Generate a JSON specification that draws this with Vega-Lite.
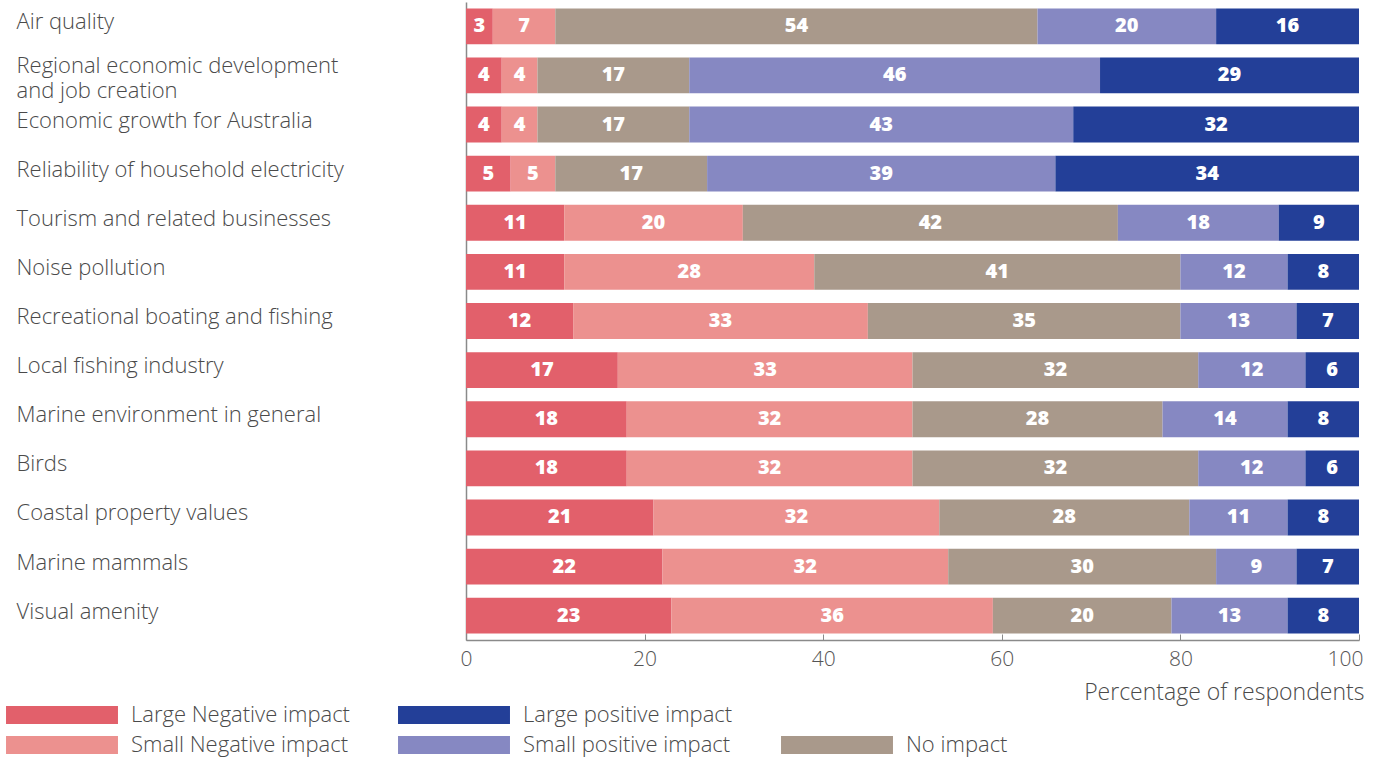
{
  "$schema": "https://vega.github.io/schema/vega-lite/v6.json",
  "width": 893,
  "height": 638,
  "autosize": {"type": "none"},
  "padding": {"left": 466, "top": 2, "right": 22, "bottom": 118},
  "background": "white",
  "config": {"view": {"stroke": null}, "font": "Open Sans"},
  "datasets": {
    "impacts": [
      {"impact": "Large Negative impact", "seg": 1},
      {"impact": "Small Negative impact", "seg": 2},
      {"impact": "No impact", "seg": 3},
      {"impact": "Small positive impact", "seg": 4},
      {"impact": "Large positive impact", "seg": 5}
    ],
    "survey": [
      {"item": "Air quality", "impact": "Large Negative impact", "pct": 3},
      {"item": "Air quality", "impact": "Small Negative impact", "pct": 7},
      {"item": "Air quality", "impact": "No impact", "pct": 54},
      {"item": "Air quality", "impact": "Small positive impact", "pct": 20},
      {"item": "Air quality", "impact": "Large positive impact", "pct": 16},
      {"item": "Regional economic development and job creation", "impact": "Large Negative impact", "pct": 4},
      {"item": "Regional economic development and job creation", "impact": "Small Negative impact", "pct": 4},
      {"item": "Regional economic development and job creation", "impact": "No impact", "pct": 17},
      {"item": "Regional economic development and job creation", "impact": "Small positive impact", "pct": 46},
      {"item": "Regional economic development and job creation", "impact": "Large positive impact", "pct": 29},
      {"item": "Economic growth for Australia", "impact": "Large Negative impact", "pct": 4},
      {"item": "Economic growth for Australia", "impact": "Small Negative impact", "pct": 4},
      {"item": "Economic growth for Australia", "impact": "No impact", "pct": 17},
      {"item": "Economic growth for Australia", "impact": "Small positive impact", "pct": 43},
      {"item": "Economic growth for Australia", "impact": "Large positive impact", "pct": 32},
      {"item": "Reliability of household electricity", "impact": "Large Negative impact", "pct": 5},
      {"item": "Reliability of household electricity", "impact": "Small Negative impact", "pct": 5},
      {"item": "Reliability of household electricity", "impact": "No impact", "pct": 17},
      {"item": "Reliability of household electricity", "impact": "Small positive impact", "pct": 39},
      {"item": "Reliability of household electricity", "impact": "Large positive impact", "pct": 34},
      {"item": "Tourism and related businesses", "impact": "Large Negative impact", "pct": 11},
      {"item": "Tourism and related businesses", "impact": "Small Negative impact", "pct": 20},
      {"item": "Tourism and related businesses", "impact": "No impact", "pct": 42},
      {"item": "Tourism and related businesses", "impact": "Small positive impact", "pct": 18},
      {"item": "Tourism and related businesses", "impact": "Large positive impact", "pct": 9},
      {"item": "Noise pollution", "impact": "Large Negative impact", "pct": 11},
      {"item": "Noise pollution", "impact": "Small Negative impact", "pct": 28},
      {"item": "Noise pollution", "impact": "No impact", "pct": 41},
      {"item": "Noise pollution", "impact": "Small positive impact", "pct": 12},
      {"item": "Noise pollution", "impact": "Large positive impact", "pct": 8},
      {"item": "Recreational boating and fishing", "impact": "Large Negative impact", "pct": 12},
      {"item": "Recreational boating and fishing", "impact": "Small Negative impact", "pct": 33},
      {"item": "Recreational boating and fishing", "impact": "No impact", "pct": 35},
      {"item": "Recreational boating and fishing", "impact": "Small positive impact", "pct": 13},
      {"item": "Recreational boating and fishing", "impact": "Large positive impact", "pct": 7},
      {"item": "Local fishing industry", "impact": "Large Negative impact", "pct": 17},
      {"item": "Local fishing industry", "impact": "Small Negative impact", "pct": 33},
      {"item": "Local fishing industry", "impact": "No impact", "pct": 32},
      {"item": "Local fishing industry", "impact": "Small positive impact", "pct": 12},
      {"item": "Local fishing industry", "impact": "Large positive impact", "pct": 6},
      {"item": "Marine environment in general", "impact": "Large Negative impact", "pct": 18},
      {"item": "Marine environment in general", "impact": "Small Negative impact", "pct": 32},
      {"item": "Marine environment in general", "impact": "No impact", "pct": 28},
      {"item": "Marine environment in general", "impact": "Small positive impact", "pct": 14},
      {"item": "Marine environment in general", "impact": "Large positive impact", "pct": 8},
      {"item": "Birds", "impact": "Large Negative impact", "pct": 18},
      {"item": "Birds", "impact": "Small Negative impact", "pct": 32},
      {"item": "Birds", "impact": "No impact", "pct": 32},
      {"item": "Birds", "impact": "Small positive impact", "pct": 12},
      {"item": "Birds", "impact": "Large positive impact", "pct": 6},
      {"item": "Coastal property values", "impact": "Large Negative impact", "pct": 21},
      {"item": "Coastal property values", "impact": "Small Negative impact", "pct": 32},
      {"item": "Coastal property values", "impact": "No impact", "pct": 28},
      {"item": "Coastal property values", "impact": "Small positive impact", "pct": 11},
      {"item": "Coastal property values", "impact": "Large positive impact", "pct": 8},
      {"item": "Marine mammals", "impact": "Large Negative impact", "pct": 22},
      {"item": "Marine mammals", "impact": "Small Negative impact", "pct": 32},
      {"item": "Marine mammals", "impact": "No impact", "pct": 30},
      {"item": "Marine mammals", "impact": "Small positive impact", "pct": 9},
      {"item": "Marine mammals", "impact": "Large positive impact", "pct": 7},
      {"item": "Visual amenity", "impact": "Large Negative impact", "pct": 23},
      {"item": "Visual amenity", "impact": "Small Negative impact", "pct": 36},
      {"item": "Visual amenity", "impact": "No impact", "pct": 20},
      {"item": "Visual amenity", "impact": "Small positive impact", "pct": 13},
      {"item": "Visual amenity", "impact": "Large positive impact", "pct": 8}
    ]
  },
  "data": {"name": "survey"},
  "transform": [
    {"lookup": "impact", "from": {"data": {"name": "impacts"}, "key": "impact", "fields": ["seg"]}}
  ],
  "encoding": {
    "y": {
      "field": "item",
      "type": "nominal",
      "sort": null,
      "scale": {"paddingInner": 0.27, "paddingOuter": 0.13},
      "axis": {
        "title": null,
        "ticks": false,
        "domain": true,
        "domainColor": "#8a8a8a",
        "domainWidth": 1.5,
        "labelAlign": "left",
        "labelPadding": 450,
        "labelFont": "Open Sans",
        "labelFontSize": 22,
        "labelFontWeight": 300,
        "labelColor": "#4a4a4a",
        "labelLimit": 0,
        "labelBaseline": "alphabetic",
        "labelLineHeight": 25,
        "labelOffset": {"condition": {"test": "datum.value === 'Regional economic development and job creation'", "value": -2}, "value": 3},
        "labelExpr": "datum.value === 'Regional economic development and job creation' ? ['Regional economic development', 'and job creation'] : datum.value"
      }
    },
    "x": {
      "field": "pct",
      "type": "quantitative",
      "stack": "zero",
      "scale": {"domain": [0, 100], "nice": false},
      "axis": {
        "title": "Percentage of respondents",
        "values": [0, 20, 40, 60, 80, 100],
        "grid": false,
        "domainColor": "#8a8a8a",
        "domainWidth": 1.5,
        "tickColor": "#8a8a8a",
        "tickSize": -6,
        "labelPadding": 14,
        "labelFont": "Open Sans",
        "labelFontSize": 21,
        "labelFontWeight": 300,
        "labelColor": "#555555",
        "labelAlign": {"condition": {"test": "datum.value === 100", "value": "right"}, "value": "center"},
        "labelOffset": {"condition": {"test": "datum.value === 100", "value": 4}, "value": 0},
        "titleFont": "Open Sans",
        "titleFontSize": 23,
        "titleFontWeight": 300,
        "titleColor": "#4a4a4a",
        "titleAnchor": "end",
        "titleAlign": "right",
        "titleX": 898,
        "titlePadding": 12
      }
    },
    "order": {"field": "seg", "type": "quantitative", "sort": "ascending"}
  },
  "layer": [
    {
      "mark": {"type": "bar", "height": {"band": 1}},
      "encoding": {
        "color": {
          "field": "impact",
          "type": "nominal",
          "scale": {
            "domain": ["Large Negative impact", "Small Negative impact", "No impact", "Small positive impact", "Large positive impact", "_blank"],
            "range": ["#e2606b", "#ec918f", "#a9998b", "#8688c2", "#233f98", "rgba(0,0,0,0)"]
          },
          "legend": {
            "title": null,
            "orient": "none",
            "direction": "vertical",
            "legendX": -415,
            "legendY": 702,
            "values": ["Large Negative impact", "Small Negative impact", "Large positive impact", "Small positive impact", "_blank", "No impact"],
            "labelExpr": "datum.value === '_blank' ? '' : datum.label",
            "columns": 3,
            "columnPadding": 48,
            "rowPadding": 8,
            "gridAlign": "each",
            "padding": 0,
            "symbolType": "M-6.22,-1H6.22V1H-6.22Z",
            "symbolSize": 324,
            "symbolStrokeWidth": 0,
            "symbolOpacity": 1,
            "labelOffset": 58,
            "labelFont": "Open Sans",
            "labelFontSize": 22,
            "labelFontWeight": 300,
            "labelColor": "#4a4a4a",
            "labelLimit": 400
          }
        }
      }
    },
    {
      "mark": {"type": "text", "color": "white", "font": "Open Sans", "fontSize": 20, "fontWeight": 800, "baseline": "middle", "align": "center"},
      "encoding": {
        "x": {"field": "pct", "type": "quantitative", "stack": "zero", "bandPosition": 0.5},
        "detail": {"field": "impact", "type": "nominal"},
        "text": {"field": "pct", "type": "quantitative"}
      }
    }
  ]
}
